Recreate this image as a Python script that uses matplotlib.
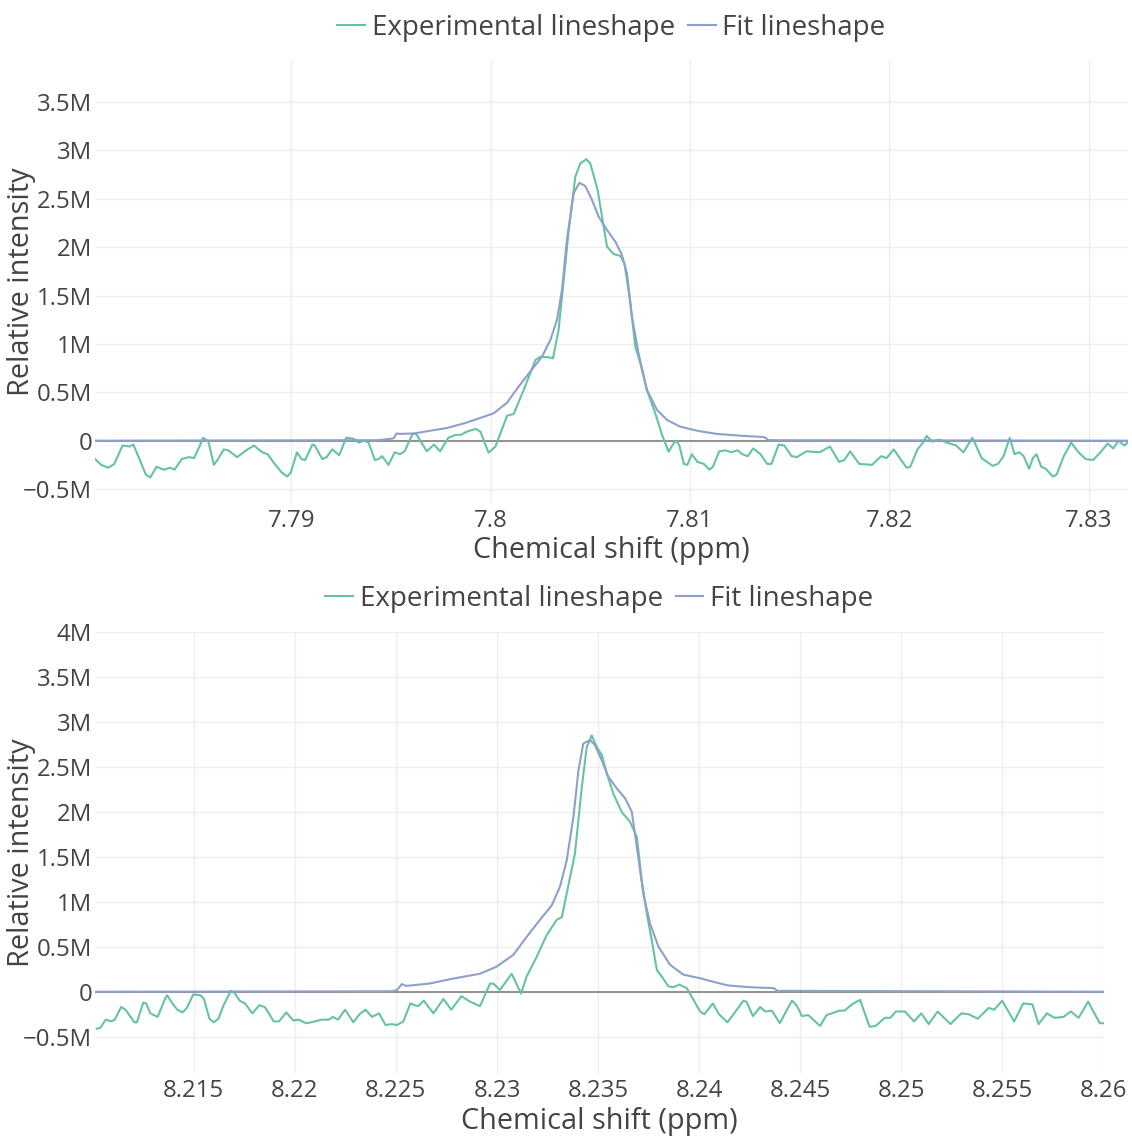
import numpy as np
import matplotlib
matplotlib.use("Agg")
import matplotlib.pyplot as plt
from matplotlib.ticker import FixedLocator, FuncFormatter

# ---------------- data (ppm, intensity in millions) ----------------
top_exp_ppm = [7.78016, 7.78047, 7.78083, 7.78113, 7.78154, 7.78190, 7.78208, 7.78235, 7.78271, 7.78293,
               7.78325, 7.78361, 7.78393, 7.78415, 7.78451, 7.78487, 7.78513, 7.78540, 7.78558, 7.78585,
               7.78612, 7.78630, 7.78662, 7.78684, 7.78729, 7.78774, 7.78813, 7.78855, 7.78882, 7.78917,
               7.78953, 7.78980, 7.78998, 7.79029, 7.79052, 7.79070, 7.79106, 7.79118, 7.79156, 7.79178,
               7.79205, 7.79241, 7.79276, 7.79312, 7.79339, 7.79366, 7.79388, 7.79420, 7.79438, 7.79456,
               7.79488, 7.79519, 7.79546, 7.79569, 7.79609, 7.79627, 7.79680, 7.79716, 7.79747, 7.79788,
               7.79824, 7.79851, 7.79878, 7.79905, 7.79928, 7.79949, 7.79990, 7.80024, 7.80083, 7.80116,
               7.80166, 7.80225, 7.80250, 7.80291, 7.80313, 7.80341, 7.80367, 7.80392, 7.80425, 7.80450,
               7.80480, 7.80500, 7.80537, 7.80559, 7.80584, 7.80617, 7.80651, 7.80671, 7.80697, 7.80726,
               7.80751, 7.80784, 7.80826, 7.80860, 7.80893, 7.80918, 7.80932, 7.80947, 7.80969, 7.80987,
               7.81009, 7.81038, 7.81070, 7.81097, 7.81115, 7.81147, 7.81180, 7.81207, 7.81240, 7.81262,
               7.81290, 7.81317, 7.81354, 7.81387, 7.81409, 7.81445, 7.81473, 7.81510, 7.81537, 7.81583,
               7.81651, 7.81702, 7.81748, 7.81775, 7.81803, 7.81849, 7.81913, 7.81959, 7.81986, 7.82022,
               7.82059, 7.82087, 7.82105, 7.82141, 7.82169, 7.82187, 7.82215, 7.82251, 7.82288, 7.82335,
               7.82371, 7.82417, 7.82463, 7.82518, 7.82545, 7.82573, 7.82604, 7.82628, 7.82652, 7.82674,
               7.82701, 7.82720, 7.82738, 7.82762, 7.82784, 7.82820, 7.82839, 7.82875, 7.82912, 7.82949,
               7.82985, 7.83022, 7.83059, 7.83095, 7.83123, 7.83150, 7.83178, 7.83196]
top_exp_int = [-0.19, -0.25, -0.28, -0.24, -0.05, -0.06, -0.04, -0.17, -0.35, -0.38,
               -0.27, -0.30, -0.28, -0.30, -0.19, -0.17, -0.18, -0.06, 0.03, -0.01,
               -0.25, -0.20, -0.09, -0.10, -0.17, -0.10, -0.05, -0.12, -0.14, -0.24,
               -0.33, -0.37, -0.33, -0.12, -0.19, -0.20, -0.04, -0.05, -0.19, -0.17,
               -0.09, -0.15, 0.03, 0.02, -0.02, 0.00, -0.02, -0.20, -0.19, -0.16,
               -0.25, -0.12, -0.14, -0.11, 0.07, 0.07, -0.11, -0.04, -0.11, 0.03,
               0.06, 0.06, 0.09, 0.11, 0.12, 0.093, -0.124, -0.062, 0.258, 0.276,
               0.524, 0.834, 0.868, 0.862, 0.851, 1.144, 1.661, 2.177, 2.728, 2.866,
               2.908, 2.866, 2.591, 2.315, 2.005, 1.929, 1.909, 1.833, 1.488, 0.971,
               0.800, 0.524, 0.283, 0.059, -0.114, -0.027, -0.00, -0.05, -0.24, -0.25,
               -0.14, -0.22, -0.24, -0.30, -0.27, -0.11, -0.10, -0.12, -0.10, -0.14,
               -0.16, -0.08, -0.14, -0.24, -0.24, -0.04, -0.05, -0.16, -0.17, -0.11,
               -0.12, -0.06, -0.22, -0.20, -0.11, -0.24, -0.25, -0.16, -0.18, -0.09,
               -0.20, -0.28, -0.27, -0.09, -0.02, 0.05, -0.01, 0.01, -0.02, -0.05,
               -0.12, 0.03, -0.18, -0.26, -0.24, -0.16, 0.03, -0.14, -0.12, -0.16,
               -0.29, -0.18, -0.14, -0.27, -0.29, -0.37, -0.35, -0.16, -0.02, -0.12,
               -0.19, -0.20, -0.12, -0.03, -0.08, -0.00, -0.05, -0.02]

top_fit_ppm = [7.78016, 7.79438, 7.79501, 7.79515, 7.79528, 7.79546, 7.79618, 7.79689, 7.79779, 7.79869,
               7.79941, 7.80016, 7.80083, 7.80116, 7.80166, 7.80216, 7.80258, 7.80300, 7.80333, 7.80358,
               7.80383, 7.80417, 7.80445, 7.80475, 7.80509, 7.80542, 7.80584, 7.80626, 7.80659, 7.80684,
               7.80709, 7.80742, 7.80784, 7.80835, 7.80885, 7.80951, 7.81042, 7.81134, 7.81262, 7.81354,
               7.81375, 7.81394, 7.83196]
top_fit_int = [0.0, 0.005, 0.02, 0.025, 0.075, 0.07, 0.075, 0.10, 0.13, 0.18,
               0.23, 0.283, 0.393, 0.490, 0.627, 0.758, 0.868, 1.041, 1.247, 1.557,
               2.074, 2.557, 2.665, 2.632, 2.487, 2.315, 2.177, 2.056, 1.919, 1.730,
               1.281, 0.903, 0.524, 0.317, 0.214, 0.145, 0.10, 0.07, 0.05, 0.04,
               0.035, 0.005, 0.0]

bot_exp_ppm = [8.21021, 8.21039, 8.21065, 8.21092, 8.21110, 8.21141, 8.21163, 8.21207, 8.21219, 8.21251,
               8.21265, 8.21286, 8.21322, 8.21360, 8.21369, 8.21392, 8.21419, 8.21445, 8.21466, 8.21498,
               8.21534, 8.21551, 8.21578, 8.21599, 8.21622, 8.21648, 8.21684, 8.21701, 8.21728, 8.21754,
               8.21790, 8.21825, 8.21852, 8.21896, 8.21922, 8.21958, 8.21993, 8.22019, 8.22055, 8.22081,
               8.22134, 8.22170, 8.22187, 8.22214, 8.22249, 8.22290, 8.22320, 8.22350, 8.22382, 8.22417,
               8.22449, 8.22479, 8.22506, 8.22537, 8.22572, 8.22594, 8.22611, 8.22638, 8.22686, 8.22735,
               8.22774, 8.22824, 8.22867, 8.22916, 8.22966, 8.22983, 8.23015, 8.23073, 8.23119, 8.23147,
               8.23197, 8.23246, 8.23296, 8.23321, 8.23345, 8.23386, 8.23420, 8.23444, 8.23469, 8.23494,
               8.23519, 8.23543, 8.23576, 8.23617, 8.23658, 8.23692, 8.23716, 8.23741, 8.23766, 8.23791,
               8.23815, 8.23848, 8.23873, 8.23902, 8.23939, 8.23972, 8.24005, 8.24026, 8.24068, 8.24098,
               8.24140, 8.24180, 8.24219, 8.24234, 8.24266, 8.24302, 8.24327, 8.24360, 8.24399, 8.24432,
               8.24459, 8.24482, 8.24508, 8.24540, 8.24598, 8.24630, 8.24657, 8.24693, 8.24720, 8.24756,
               8.24796, 8.24843, 8.24873, 8.24918, 8.24946, 8.24973, 8.25018, 8.25063, 8.25099, 8.25135,
               8.25180, 8.25243, 8.25297, 8.25333, 8.25378, 8.25432, 8.25459, 8.25499, 8.25558, 8.25603,
               8.25648, 8.25679, 8.25720, 8.25757, 8.25802, 8.25838, 8.25877, 8.25924, 8.25955, 8.25982,
               8.26000]
bot_exp_int = [-0.41, -0.40, -0.31, -0.33, -0.31, -0.17, -0.20, -0.34, -0.34, -0.12,
               -0.13, -0.24, -0.28, -0.07, -0.04, -0.12, -0.20, -0.23, -0.18, -0.03,
               -0.04, -0.08, -0.30, -0.34, -0.30, -0.15, 0.01, -0.01, -0.10, -0.13,
               -0.24, -0.15, -0.17, -0.33, -0.33, -0.23, -0.32, -0.31, -0.35, -0.34,
               -0.31, -0.31, -0.28, -0.31, -0.20, -0.34, -0.25, -0.20, -0.28, -0.24,
               -0.37, -0.36, -0.37, -0.33, -0.13, -0.15, -0.16, -0.10, -0.24, -0.08,
               -0.20, -0.05, -0.11, -0.16, 0.09, 0.09, 0.02, 0.20, -0.02, 0.17,
               0.39, 0.63, 0.80, 0.83, 1.09, 1.54, 2.28, 2.72, 2.85, 2.72,
               2.63, 2.43, 2.20, 2.00, 1.89, 1.72, 1.24, 0.87, 0.57, 0.24,
               0.17, 0.06, 0.05, 0.08, 0.04, -0.09, -0.22, -0.25, -0.13, -0.25,
               -0.34, -0.22, -0.10, -0.11, -0.27, -0.17, -0.22, -0.21, -0.35, -0.21,
               -0.10, -0.15, -0.27, -0.26, -0.38, -0.26, -0.24, -0.21, -0.21, -0.14,
               -0.09, -0.39, -0.38, -0.29, -0.29, -0.22, -0.22, -0.33, -0.24, -0.36,
               -0.22, -0.36, -0.24, -0.25, -0.30, -0.18, -0.20, -0.10, -0.33, -0.13,
               -0.14, -0.36, -0.24, -0.29, -0.28, -0.22, -0.29, -0.11, -0.24, -0.35,
               -0.35]

bot_fit_ppm = [8.21012, 8.22480, 8.22506, 8.22530, 8.22550, 8.22664, 8.22770, 8.22817, 8.22916, 8.22999,
               8.23081, 8.23147, 8.23213, 8.23271, 8.23312, 8.23345, 8.23378, 8.23403, 8.23427, 8.23461,
               8.23485, 8.23519, 8.23551, 8.23593, 8.23634, 8.23667, 8.23692, 8.23724, 8.23757, 8.23799,
               8.23856, 8.23922, 8.24005, 8.24071, 8.24143, 8.24252, 8.24369, 8.24387, 8.26000]
bot_fit_int = [0.0, 0.005, 0.02, 0.085, 0.065, 0.09, 0.14, 0.16, 0.20, 0.28,
               0.41, 0.61, 0.80, 0.96, 1.17, 1.46, 1.94, 2.46, 2.76, 2.80,
               2.74, 2.57, 2.39, 2.26, 2.15, 2.00, 1.61, 1.09, 0.76, 0.50,
               0.30, 0.19, 0.15, 0.11, 0.07, 0.05, 0.04, 0.01, 0.0]

top_xticks = [7.79, 7.80, 7.81, 7.82, 7.83]
top_xticklabels = ["7.79", "7.8", "7.81", "7.82", "7.83"]
bot_xticks = [8.215, 8.22, 8.225, 8.23, 8.235, 8.24, 8.245, 8.25, 8.255, 8.26]
bot_xticklabels = ["8.215", "8.22", "8.225", "8.23", "8.235", "8.24", "8.245", "8.25", "8.255", "8.26"]
top_yticks_m = [-0.5, 0, 0.5, 1, 1.5, 2, 2.5, 3, 3.5]
bot_yticks_m = [-0.5, 0, 0.5, 1, 1.5, 2, 2.5, 3, 3.5, 4]

series_names = ["Experimental lineshape", "Fit lineshape"]

# ---------------- style ----------------
plt.rcParams['font.family'] = ['Open Sans', 'DejaVu Sans']
TXT = '#444444'
GREEN = '#66c2a5'
BLUE = '#8da0cb'
GRID = '#eeeeee'
ZERO = '#8a8a8a'
LW = 1.5

W, H = 1132, 1138
fig = plt.figure(figsize=(W / 100, H / 100), dpi=100)
fig.patch.set_facecolor('white')


def px_axes(left, top, right, bottom):
    return fig.add_axes([left / W, 1 - bottom / H, (right - left) / W, (bottom - top) / H])


def fmt_m(v, pos=None):
    m = v / 1e6
    if abs(m) < 1e-9:
        return "0"
    s = f"{m:g}M"
    return s.replace("-", "\u2212")


def style_axes(ax, xt, xtl, yt_m, xlim, ylim, label_y, ylab_x, leg_y):
    ax.set_xlim(*xlim)
    ax.set_ylim(ylim[0] * 1e6, ylim[1] * 1e6)
    ax.xaxis.set_major_locator(FixedLocator(xt))
    ax.set_xticklabels(xtl)
    ax.yaxis.set_major_locator(FixedLocator([v * 1e6 for v in yt_m]))
    ax.yaxis.set_major_formatter(FuncFormatter(fmt_m))
    for s in ax.spines.values():
        s.set_visible(False)
    ax.grid(True, color=GRID, lw=1.0)
    ax.set_axisbelow(True)
    ax.tick_params(axis='both', length=0, labelsize=17.3, colors=TXT)
    ax.tick_params(axis='x', pad=5)
    ax.tick_params(axis='y', pad=2)
    ax.axhline(0, color=ZERO, lw=1.3, zorder=1.5)
    ax.set_xlabel("Chemical shift (ppm)", fontsize=20.8, color=TXT)
    ax.set_ylabel("Relative intensity", fontsize=20.8, color=TXT)
    ax.xaxis.set_label_coords(0.5, label_y)
    ax.xaxis.label.set_va('center')
    ax.yaxis.set_label_coords(ylab_x, 0.5)
    ax.yaxis.label.set_va('center')
    leg = ax.legend(loc='center', bbox_to_anchor=(0.5, leg_y), ncol=2, frameon=False,
                    fontsize=20, handlelength=1.0, handletextpad=0.25, columnspacing=0.45,
                    borderaxespad=0, borderpad=0)
    for t in leg.get_texts():
        t.set_color(TXT)


# top panel
ax1 = px_axes(95, 60, 1128, 502.5)
ax1.plot(top_exp_ppm, np.array(top_exp_int) * 1e6, color=GREEN, lw=LW, label=series_names[0], zorder=3)
ax1.plot(top_fit_ppm, np.array(top_fit_int) * 1e6, color=BLUE, lw=LW, label=series_names[1], zorder=4)
style_axes(ax1, top_xticks, top_xticklabels, top_yticks_m, (7.78016, 7.83197), (-0.639, 3.934),
           -(550 - 502.5) / 442.5, (22 - 95) / 1033, (502.5 - 28) / 442.5)

# bottom panel
ax2 = px_axes(95, 632, 1103.5, 1072.5)
ax2.plot(bot_exp_ppm, np.array(bot_exp_int) * 1e6, color=GREEN, lw=LW, label=series_names[0], zorder=3)
ax2.plot(bot_fit_ppm, np.array(bot_fit_int) * 1e6, color=BLUE, lw=LW, label=series_names[1], zorder=4)
style_axes(ax2, bot_xticks, bot_xticklabels, bot_yticks_m, (8.21012, 8.26), (-0.898, 4.0),
           -(1121 - 1072.5) / 440.5, (22 - 95) / 1008.5, (1072.5 - 599) / 440.5)

fig.savefig("out.png", dpi=100, facecolor='white')
